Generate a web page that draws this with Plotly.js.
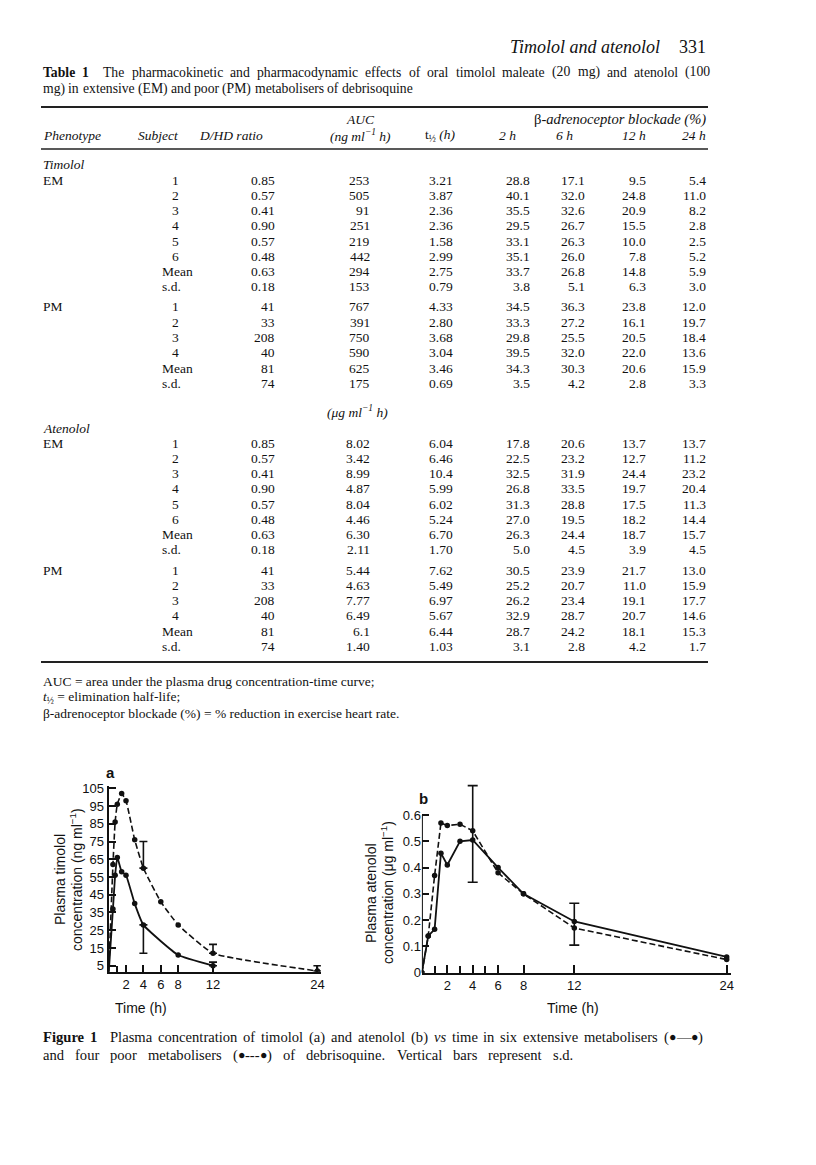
<!DOCTYPE html>
<html>
<head>
<meta charset="utf-8">
<script src="https://cdn.plot.ly/plotly-3.0.1.min.js"></script>
<style>
html,body{margin:0;padding:0;background:#fff;}
#page{width:816px;height:1165px;}
</style>
</head>
<body>
<div id="page"></div>
<script>
// ---------------- DATA ----------------
// Table 1 rows: [subject, D/HD ratio, AUC, t1/2, 2h, 6h, 12h, 24h]
const timololEM = [
  ["1","0.85","253","3.21","28.8","17.1","9.5","5.4"],
  ["2","0.57","505","3.87","40.1","32.0","24.8","11.0"],
  ["3","0.41","91","2.36","35.5","32.6","20.9","8.2"],
  ["4","0.90","251","2.36","29.5","26.7","15.5","2.8"],
  ["5","0.57","219","1.58","33.1","26.3","10.0","2.5"],
  ["6","0.48","442","2.99","35.1","26.0","7.8","5.2"],
  ["Mean","0.63","294","2.75","33.7","26.8","14.8","5.9"],
  ["s.d.","0.18","153","0.79","3.8","5.1","6.3","3.0"]
];
const timololPM = [
  ["1","41","767","4.33","34.5","36.3","23.8","12.0"],
  ["2","33","391","2.80","33.3","27.2","16.1","19.7"],
  ["3","208","750","3.68","29.8","25.5","20.5","18.4"],
  ["4","40","590","3.04","39.5","32.0","22.0","13.6"],
  ["Mean","81","625","3.46","34.3","30.3","20.6","15.9"],
  ["s.d.","74","175","0.69","3.5","4.2","2.8","3.3"]
];
const atenololEM = [
  ["1","0.85","8.02","6.04","17.8","20.6","13.7","13.7"],
  ["2","0.57","3.42","6.46","22.5","23.2","12.7","11.2"],
  ["3","0.41","8.99","10.4","32.5","31.9","24.4","23.2"],
  ["4","0.90","4.87","5.99","26.8","33.5","19.7","20.4"],
  ["5","0.57","8.04","6.02","31.3","28.8","17.5","11.3"],
  ["6","0.48","4.46","5.24","27.0","19.5","18.2","14.4"],
  ["Mean","0.63","6.30","6.70","26.3","24.4","18.7","15.7"],
  ["s.d.","0.18","2.11","1.70","5.0","4.5","3.9","4.5"]
];
const atenololPM = [
  ["1","41","5.44","7.62","30.5","23.9","21.7","13.0"],
  ["2","33","4.63","5.49","25.2","20.7","11.0","15.9"],
  ["3","208","7.77","6.97","26.2","23.4","19.1","17.7"],
  ["4","40","6.49","5.67","32.9","28.7","20.7","14.6"],
  ["Mean","81","6.1","6.44","28.7","24.2","18.1","15.3"],
  ["s.d.","74","1.40","1.03","3.1","2.8","4.2","1.7"]
];

// Figure 1a: timolol (ng/ml); NaN = no s.d. bar drawn
const timeA_EM = [0, 0.5, 0.75, 1, 1.5, 2, 3, 4, 8, 12];
const concA_EM = [0, 37, 56, 66, 58, 56, 40, 28, 11, 5];
const sdA_EM_plus  = [NaN, NaN, NaN, NaN, NaN, NaN, NaN, 0, NaN, 2];
const sdA_EM_minus = [NaN, NaN, NaN, NaN, NaN, NaN, NaN, 16, NaN, 0];
const timeA_PM = [0, 0.5, 0.75, 1, 1.5, 2, 3, 4, 6, 8, 12, 24];
const concA_PM = [0, 62, 86, 96, 102, 98, 76, 60, 41, 28, 12, 2];
const sdA_PM_plus  = [NaN, NaN, NaN, NaN, NaN, NaN, NaN, 15, NaN, NaN, 5, 3];
const sdA_PM_minus = [NaN, NaN, NaN, NaN, NaN, NaN, NaN, 0, NaN, NaN, 0, 0];

// Figure 1b: atenolol (ug/ml)
const timeB_EM = [0, 0.5, 1, 1.5, 2, 3, 4, 6, 8, 12, 24];
const concB_EM = [0, 0.14, 0.165, 0.455, 0.41, 0.50, 0.505, 0.40, 0.30, 0.195, 0.06];
const sdB_EM_plus  = [NaN, NaN, NaN, NaN, NaN, NaN, 0.207, NaN, NaN, 0.069, NaN];
const sdB_EM_minus = [NaN, NaN, NaN, NaN, NaN, NaN, 0.161, NaN, NaN, 0.09, NaN];
const timeB_PM = [0, 0.5, 1, 1.5, 2, 3, 4, 6, 8, 12, 24];
const concB_PM = [0, 0.14, 0.37, 0.57, 0.56, 0.565, 0.54, 0.38, 0.30, 0.17, 0.05];

const tickValsA = [2, 4, 6, 8, 12, 24];
const minorTicksA = [1];
const yTicksA = [5, 15, 25, 35, 45, 55, 65, 75, 85, 95, 105];
const tickValsB = [2, 4, 6, 8, 12, 24];
const minorTicksB = [1, 3, 5];
const yTicksB = [0, 0.1, 0.2, 0.3, 0.4, 0.5, 0.6];
const yTickTextB = ["0", "0.1", "0.2", "0.3", "0.4", "0.5", "0.6"];

// ---------------- PAGE GEOMETRY ----------------
const W = 816, H = 1165;
const px = x => x / W;
const py = y => 1 - y / H;
const SERIF_NAME = "Liberation Serif";
const SERIF = "Liberation Serif, Times New Roman, serif";
const SANS = "Liberation Sans, Arial, sans-serif";
const ann = [];
function T(x, y, text, o) {
  o = o || {};
  ann.push({
    xref: "paper", yref: "paper", x: px(x), y: py(y),
    text: text, showarrow: false,
    xanchor: o.xa || "left", yanchor: "middle",
    textangle: o.angle || 0,
    font: {family: o.family || SERIF, size: o.size || 13.5, color: "#111"}
  });
}

// justified line of words made of styled pieces (b = bold, i = italic, s = small)
const ctx = document.createElement("canvas").getContext("2d");
function measure(t, size, f) {
  ctx.font = (f.includes("i") ? "italic " : "") + (f.includes("b") ? "bold " : "") + size + "px \"" + SERIF_NAME + "\"";
  return ctx.measureText(t).width;
}
function line(words, x0, x1, y, size, justify) {
  const ws = words.map(w => w.map(p => {
    const f = p[1] || "";
    const s = f.includes("s") ? size * 0.85 : size;
    return {t: p[0], f: f, s: s, w: measure(p[0], s, f)};
  }));
  const widths = ws.map(w => w.reduce((a, p) => a + p.w, 0));
  const total = widths.reduce((a, b) => a + b, 0);
  const gap = justify ? (x1 - x0 - total) / (ws.length - 1) : measure(" ", size, "");
  let x = x0;
  ws.forEach((w, i) => {
    let xx = x;
    w.forEach(p => {
      let t = p.t;
      if (p.f.includes("b")) t = "<b>" + t + "</b>";
      if (p.f.includes("i")) t = "<i>" + t + "</i>";
      T(xx, y, t, {size: p.s});
      xx += p.w;
    });
    x += widths[i] + gap;
  });
}
const W_ = s => s.split(" ").map(w => [[w, ""]]);

// header
T(662, 47, "<i>Timolol and atenolol</i>", {xa: "right", size: 18});
T(708, 47, "331", {xa: "right", size: 18});
line([[["Table", "b"]], [["1\u2002", "b"]]].concat(W_("The pharmacokinetic and pharmacodynamic effects of oral timolol maleate (20 mg) and atenolol (100")),
     41, 708, 72, 13.7, true);
line(W_("mg) in extensive (EM) and poor (PM) metabolisers of debrisoquine"), 41, 0, 89, 13.7, false);

// table headers
const colRight = [181, 277, 372, null, 532, 587, 648, 708];
const tLeft = 427;
T(360, 120, "<i>AUC</i>", {xa: "center"});
T(708, 120, "β<i>-adrenoceptor blockade (%)</i>", {xa: "right", size: 14.6});
T(41, 135, "<i>Phenotype</i>");
T(181, 135, "<i>Subject</i>", {xa: "right"});
T(231, 135, "<i>D/HD ratio</i>", {xa: "center"});
T(360, 135, "<i>(ng ml<sup>−1</sup> h)</i>", {xa: "center"});
T(tLeft - 4, 135, "t<sub>½</sub> <i>(h)</i>");
T(518, 135, "<i>2 h</i>", {xa: "right"});
T(575, 135, "<i>6 h</i>", {xa: "right"});
T(648, 135, "<i>12 h</i>", {xa: "right"});
T(708, 135, "<i>24 h</i>", {xa: "right"});

function rows(data, y0, step, label) {
  if (label) T(41, y0, label);
  data.forEach((r, i) => {
    const y = y0 + i * step;
    r.forEach((v, j) => {
      if (j === 0) {
        if (v === "Mean" || v === "s.d.") T(160, y, v);
        else T(colRight[0], y, v, {xa: "right"});
      } else if (j === 3) {
        T(tLeft, y, v);
      } else {
        T(colRight[j], y, v, {xa: "right"});
      }
    });
  });
}
const step = 15.25;
T(41, 165, "<i>Timolol</i>");
rows(timololEM, 180, step, "EM");
rows(timololPM, 307, step, "PM");
T(357, 411, "<i>(μg ml<sup>−1</sup> h)</i>", {xa: "center"});
T(41, 428, "<i>Atenolol</i>");
rows(atenololEM, 443, step, "EM");
rows(atenololPM, 570, step, "PM");

// footnotes
T(41, 681, "AUC = area under the plasma drug concentration-time curve;");
T(41, 697, "<i>t</i><sub>½</sub> = elimination half-life;");
T(41, 713, "β-adrenoceptor blockade (%) = % reduction in exercise heart rate.");

// figure labels
T(111, 772, "<b>a</b>", {family: SANS, size: 15, xa: "center"});
T(423, 798, "<b>b</b>", {family: SANS, size: 15, xa: "center"});
T(60, 880, "Plasma timolol", {family: SANS, size: 14, angle: -90, xa: "center"});
T(76, 880, "concentration (ng ml<sup>−1</sup>)", {family: SANS, size: 14, angle: -90, xa: "center"});
T(371, 893, "Plasma atenolol", {family: SANS, size: 14, angle: -90, xa: "center"});
T(387, 893, "concentration (μg ml<sup>−1</sup>)", {family: SANS, size: 14, angle: -90, xa: "center"});
T(141, 1008, "Time (h)", {family: SANS, size: 14, xa: "center"});
T(573, 1008, "Time (h)", {family: SANS, size: 14, xa: "center"});

// figure caption (justified)
const cap1 = [[["Figure", "b"]], [["1\u2002", "b"]]]
  .concat(W_("Plasma concentration of timolol (a) and atenolol (b)"))
  .concat([[["vs", "i"]]])
  .concat(W_("time in six extensive metabolisers"))
  .concat([[["(", ""], ["●", "s"], ["—", ""], ["●", "s"], [")", ""]]]);
line(cap1, 41, 701, 1037, 14.6, true);
const cap2 = W_("and four poor metabolisers")
  .concat([[["(", ""], ["●", "s"], ["---", ""], ["●", "s"], [")", ""]]])
  .concat(W_("of debrisoquine. Vertical bars represent s.d."));
line(cap2, 41, 571, 1055, 14.6, true);

// rules
const shapes = [
  {type: "line", xref: "paper", yref: "paper", x0: px(41), x1: px(708), y0: py(107), y1: py(107), line: {color: "#222", width: 2}},
  {type: "line", xref: "paper", yref: "paper", x0: px(41), x1: px(708), y0: py(149), y1: py(149), line: {color: "#222", width: 1.3}},
  {type: "line", xref: "paper", yref: "paper", x0: px(41), x1: px(708), y0: py(662), y1: py(662), line: {color: "#222", width: 2}},
  // y axis line of panel b (drawn only up to 0.6)
  {type: "line", xref: "x2", yref: "y2", x0: 0, x1: 0, y0: 0, y1: 0.6, line: {color: "#111", width: 2}}
];

// ---------------- TRACES ----------------
const mk = {color: "#111", size: 5.5};
const traces = [
  {x: timeA_EM, y: concA_EM, xaxis: "x", yaxis: "y", mode: "lines+markers",
   line: {color: "#111", width: 1.8, shape: "spline", smoothing: 0.4}, marker: mk,
   error_y: {type: "data", symmetric: false, array: sdA_EM_plus, arrayminus: sdA_EM_minus, color: "#111", thickness: 1.6, width: 4}},
  {x: timeA_PM, y: concA_PM, xaxis: "x", yaxis: "y", mode: "lines+markers",
   line: {color: "#111", width: 1.6, dash: "6px,3px", shape: "spline", smoothing: 0.4}, marker: mk,
   error_y: {type: "data", symmetric: false, array: sdA_PM_plus, arrayminus: sdA_PM_minus, color: "#111", thickness: 1.6, width: 4}},
  {x: timeB_EM, y: concB_EM, xaxis: "x2", yaxis: "y2", mode: "lines+markers",
   line: {color: "#111", width: 1.8}, marker: mk,
   error_y: {type: "data", symmetric: false, array: sdB_EM_plus, arrayminus: sdB_EM_minus, color: "#111", thickness: 1.6, width: 5}},
  {x: timeB_PM, y: concB_PM, xaxis: "x2", yaxis: "y2", mode: "lines+markers",
   line: {color: "#111", width: 1.6, dash: "6px,3px"}, marker: mk}
];

// panel a: x=0 at 108.6px, 8.7 px/h ; y: v=5 at 965.7px, 1.774 px/unit
const aX0 = 108.6, aXs = 8.7, aXmax = 24.4;
const aYbot = 971.7, aYtop = 786, aYs = 1.774;
const aYmin = 5 - (aYbot - 965.7) / aYs, aYmax = 5 + (965.7 - aYtop) / aYs;
// panel b: x=0 at 421.9px, 12.7 px/h ; y: 0 at 972.7, 262.8 px/unit
const bX0 = 421.9, bXs = 12.7, bXmax = 24.3;
const bYbot = 972.7, bYtop = 783, bYs = 262.8;

const tickFont = {family: SANS, size: 13, color: "#111"};
const layout = {
  width: W, height: H,
  margin: {l: 0, r: 0, t: 0, b: 0},
  paper_bgcolor: "#fff", plot_bgcolor: "rgba(0,0,0,0)",
  showlegend: false,
  font: {family: SERIF, color: "#111"},
  xaxis: {domain: [px(aX0), px(aX0 + aXs * aXmax)], range: [0, aXmax], anchor: "y",
    tickvals: tickValsA, ticks: "inside", ticklen: 7, tickwidth: 2, tickcolor: "#111",
    minor: {tickvals: minorTicksA, ticks: "inside", ticklen: 6, tickwidth: 2, tickcolor: "#111", showgrid: false},
    showline: true, linecolor: "#111", linewidth: 2, showgrid: false, zeroline: false, tickfont: tickFont},
  yaxis: {domain: [py(aYbot), py(aYtop)], range: [aYmin, aYmax], anchor: "x",
    tickvals: yTicksA, ticks: "inside", ticklen: 7, tickwidth: 2, tickcolor: "#111",
    showline: true, linecolor: "#111", linewidth: 2, showgrid: false, zeroline: false, tickfont: tickFont},
  xaxis2: {domain: [px(bX0), px(bX0 + bXs * bXmax)], range: [0, bXmax], anchor: "y2",
    tickvals: tickValsB, ticks: "inside", ticklen: 8, tickwidth: 2, tickcolor: "#111",
    minor: {tickvals: minorTicksB, ticks: "inside", ticklen: 7, tickwidth: 2, tickcolor: "#111", showgrid: false},
    showline: true, linecolor: "#111", linewidth: 2, showgrid: false, zeroline: false, tickfont: tickFont},
  yaxis2: {domain: [py(bYbot), py(bYtop)], range: [0, (bYbot - bYtop) / bYs], anchor: "x2",
    tickvals: yTicksB, ticktext: yTickTextB, ticks: "inside", ticklen: 7, tickwidth: 2, tickcolor: "#111",
    showline: false, showgrid: false, zeroline: false, tickfont: tickFont},
  annotations: ann,
  shapes: shapes
};

Plotly.newPlot("page", traces, layout, {staticPlot: true, displayModeBar: false});
</script>
</body>
</html>
